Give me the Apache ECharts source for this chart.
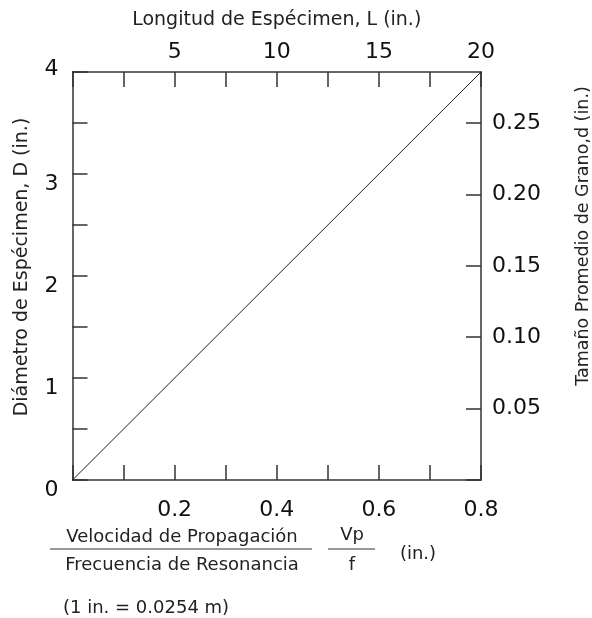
<!DOCTYPE html>
<html lang="es">
<head>
    <meta charset="utf-8"/>
    <script src="https://cdn.jsdelivr.net/npm/echarts@6/dist/echarts.min.js"></script>
</head>
<body style="margin: 0; background: #fff">
<div id="container" style="width: 592px; height: 618px;"></div>
<script type="text/javascript">
    // datos de la recta D = Vp/f * 5
    var lineX = [0, 0.8];
    var lineY = [0, 4];
    // rangos de los ejes
    var bottomMax = 0.8, topMax = 20, leftMax = 4, rightMax = 4 / 14;

    var fontTxt = 'DejaVu Sans';
    var axisColor = '#333';

    var myChart = echarts.init(document.getElementById('container'));

    function axisBase() {
        return {
            type: 'value',
            splitLine: {show: false},
            axisLine: {show: true, onZero: false, lineStyle: {color: axisColor, width: 1.5}},
            axisTick: {show: true, inside: true, length: 15, lineStyle: {color: axisColor, width: 1.5}}
        };
    }

    var bottomAxis = axisBase();
    Object.assign(bottomAxis, {
        position: 'bottom', min: 0, max: bottomMax, interval: 0.1,
        axisLabel: {
            margin: 19, fontFamily: fontTxt, fontSize: 22, color: '#111',
            formatter: function (v) {
                var r = Math.round(v * 10);
                return (r > 0 && r % 2 === 0) ? (r / 10).toFixed(1) : '';
            }
        }
    });

    var topAxis = axisBase();
    Object.assign(topAxis, {
        position: 'top', min: 0, max: topMax, interval: 2.5,
        name: 'Longitud de Espécimen, L (in.)',
        nameLocation: 'middle', nameGap: 42,
        nameTextStyle: {fontFamily: fontTxt, fontSize: 19, color: '#222'},
        axisLabel: {
            margin: 9, fontFamily: fontTxt, fontSize: 22, color: '#111',
            formatter: function (v) {
                return (v > 0 && v % 5 === 0) ? String(v) : '';
            }
        }
    });

    var leftAxis = axisBase();
    Object.assign(leftAxis, {
        position: 'left', min: 0, max: leftMax, interval: 0.5,
        axisLabel: {
            margin: 14, fontFamily: fontTxt, fontSize: 22, color: '#111',
            formatter: function (v) {
                if (v === 4) return '{t|4}';
                return (v % 1 === 0) ? '{b|' + v + '}' : '';
            },
            rich: {
                t: {fontFamily: fontTxt, fontSize: 22, color: '#111', padding: [0, 0, 6, 0]},
                b: {fontFamily: fontTxt, fontSize: 22, color: '#111', padding: [20, 0, 0, 0]}
            }
        }
    });

    var rightAxis = axisBase();
    Object.assign(rightAxis, {
        position: 'right', min: 0, max: rightMax, interval: 0.05,
        axisLabel: {
            margin: 11, fontFamily: fontTxt, fontSize: 22, color: '#111',
            showMaxLabel: false,
            formatter: function (v) {
                return v > 0.001 && v < 0.27 ? v.toFixed(2) : '';
            }
        }
    });

    var option = {
        animation: false,
        grid: {left: 72.5, right: 111, top: 72, bottom: 138, outerBoundsMode: 'none'},
        xAxis: [bottomAxis, topAxis],
        yAxis: [leftAxis, rightAxis],
        series: [{
            type: 'line',
            xAxisIndex: 0,
            yAxisIndex: 0,
            data: lineX.map(function (x, i) { return [x, lineY[i]]; }),
            showSymbol: false,
            lineStyle: {color: '#222', width: 1}
        }],
        graphic: [
            // titulos verticales
            {type: 'text', x: 22, y: 267, rotation: Math.PI / 2,
                style: {text: 'Diámetro de Espécimen, D (in.)', font: '19px ' + fontTxt, fill: '#222', align: 'center', verticalAlign: 'middle'}},
            {type: 'text', x: 583, y: 236, rotation: Math.PI / 2,
                style: {text: 'Tamaño Promedio de Grano,d (in.)', font: '17.5px ' + fontTxt, fill: '#222', align: 'center', verticalAlign: 'middle'}},
            // fraccion del eje inferior
            {type: 'text', x: 182, y: 537,
                style: {text: 'Velocidad de Propagación', font: '18px ' + fontTxt, fill: '#222', align: 'center', verticalAlign: 'middle'}},
            {type: 'line', shape: {x1: 50, y1: 549, x2: 312, y2: 549}, style: {stroke: '#333', lineWidth: 1.2}},
            {type: 'text', x: 182, y: 565,
                style: {text: 'Frecuencia de Resonancia', font: '18px ' + fontTxt, fill: '#222', align: 'center', verticalAlign: 'middle'}},
            {type: 'text', x: 352, y: 535,
                style: {text: 'Vp', font: '18px ' + fontTxt, fill: '#222', align: 'center', verticalAlign: 'middle'}},
            {type: 'line', shape: {x1: 328, y1: 549, x2: 375, y2: 549}, style: {stroke: '#333', lineWidth: 1.2}},
            {type: 'text', x: 352, y: 565,
                style: {text: 'f', font: '18px ' + fontTxt, fill: '#222', align: 'center', verticalAlign: 'middle'}},
            {type: 'text', x: 418, y: 554,
                style: {text: '(in.)', font: '18px ' + fontTxt, fill: '#222', align: 'center', verticalAlign: 'middle'}},
            {type: 'text', x: 63, y: 608,
                style: {text: '(1 in. = 0.0254 m)', font: '18px ' + fontTxt, fill: '#222', align: 'left', verticalAlign: 'middle'}}
        ]
    };

    myChart.setOption(option);
</script>
</body>
</html>
